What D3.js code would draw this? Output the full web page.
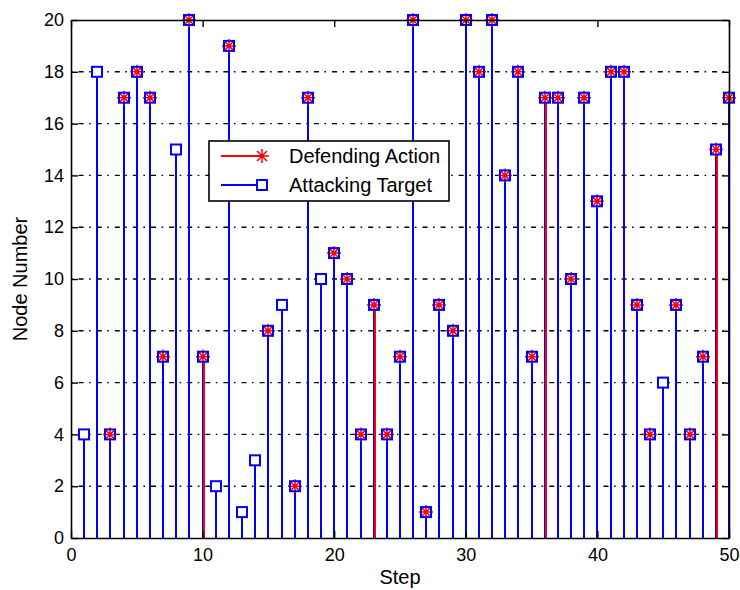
<!DOCTYPE html>
<html>
<head>
<meta charset="utf-8">
<script src="https://cdn.jsdelivr.net/npm/d3@7/dist/d3.min.js"></script>
<style>
  html, body { margin: 0; padding: 0; background: #fff; }
  svg { display: block; }
  text { font-family: "Liberation Sans", Arial, sans-serif; fill: #000; }
</style>
</head>
<body>
<svg id="chart" width="740" height="590"></svg>
<script>
// Step index (1..50)
const steps = d3.range(1, 51);
// Node targeted by the attacker at each step
const attackingTarget = [
  4, 18, 4, 17, 18, 17, 7, 15, 20, 7,
  2, 19, 1, 3, 8, 9, 2, 17, 10, 11,
  10, 4, 9, 4, 7, 20, 1, 9, 8, 20,
  18, 20, 14, 18, 7, 17, 17, 10, 17, 13,
  18, 18, 9, 4, 6, 9, 4, 7, 15, 17
];
// Node chosen by the defender at each step (null = no defending action)
const defendingAction = [
  null, null, 4, 17, 18, 17, 7, null, 20, 7,
  null, 19, null, null, 8, null, 2, 17, null, 11,
  10, 4, 9, 4, 7, 20, 1, 9, 8, 20,
  18, 20, 14, 18, 7, 17, 17, 10, 17, 13,
  18, 18, 9, 4, null, 9, 4, 7, 15, 17
];
const xTicks = [0, 10, 20, 30, 40, 50];
const yTicks = [0, 2, 4, 6, 8, 10, 12, 14, 16, 18, 20];
const seriesNames = ["Defending Action", "Attacking Target"];
const xLabel = "Step";
const yLabel = "Node Number";

const RED = "#ff0000", BLUE = "#0000ff";
const svg = d3.select("#chart");
const plot = { left: 71, right: 729, top: 20, bottom: 538 };

const x = d3.scaleLinear().domain([0, 50]).range([plot.left, plot.right]);
const y = d3.scaleLinear().domain([0, 20]).range([plot.bottom, plot.top]);
// stems sit on whole pixels so the blue line fully hides the red one beneath
const sx = s => Math.round(x(s));

const attack = steps.map((s, i) => ({ step: s, value: attackingTarget[i] }));
const defend = steps.map((s, i) => ({ step: s, value: defendingAction[i] }))
  .filter(d => d.value != null);

// dash-dot horizontal grid
const grid = svg.append("g").attr("stroke", "#000").attr("stroke-width", 1.4)
  .attr("stroke-dasharray", "1.6,6,5,5.5");
grid.selectAll("line").data(yTicks.slice(1, -1)).join("line")
  .attr("x1", x(0)).attr("x2", x(50))
  .attr("y1", d => y(d)).attr("y2", d => y(d));

// stems
const stem = (g, data, color, dx) => g.append("g")
  .attr("stroke", color).attr("stroke-width", 2).attr("shape-rendering", "crispEdges")
  .selectAll("line").data(data).join("line")
  .attr("x1", d => sx(d.step) + dx).attr("x2", d => sx(d.step) + dx)
  .attr("y1", y(0)).attr("y2", d => y(d.value));
stem(svg, defend, RED, 0);
stem(svg, attack, BLUE, 0);
// red stems that land on the pixel grid ahead of the blue ones (period of 13 steps)
stem(svg, defend.filter(d => d.step % 13 === 10), RED, 1);

// markers
const SQ = 10;
const starPath = r => {
  const a = r * Math.SQRT1_2;
  return `M${-r},0L${r},0M0,${-r}L0,${r}M${-a},${-a}L${a},${a}M${-a},${a}L${a},${-a}`;
};
svg.append("g").selectAll("rect").data(attack).join("rect")
  .attr("x", d => sx(d.step) - SQ / 2).attr("y", d => y(d.value) - SQ / 2)
  .attr("width", SQ).attr("height", SQ).attr("fill", "#fff");
svg.append("g").selectAll("path").data(defend).join("path")
  .attr("transform", d => `translate(${sx(d.step)},${y(d.value)})`)
  .attr("d", starPath(7)).attr("stroke", RED).attr("stroke-width", 1.5).attr("fill", "none");
svg.append("g").selectAll("rect").data(attack).join("rect")
  .attr("x", d => sx(d.step) - SQ / 2).attr("y", d => y(d.value) - SQ / 2)
  .attr("width", SQ).attr("height", SQ).attr("fill", "none")
  .attr("stroke", BLUE).attr("stroke-width", 2);

// axes: ticks point inward on all four sides
const styleAxis = g => {
  g.select(".domain").attr("stroke", "#000").attr("stroke-width", 1.6);
  g.selectAll(".tick line").attr("stroke", "#000").attr("stroke-width", 1.4);
  g.selectAll("text").attr("font-size", 18).attr("fill", "#000")
    .style("font-family", '"Liberation Sans", Arial, sans-serif');
};
svg.append("g").attr("transform", `translate(0,${plot.bottom})`)
  .call(d3.axisBottom(x).tickValues(xTicks).tickSize(-7).tickSizeOuter(0).tickPadding(10))
  .call(styleAxis);
svg.append("g").attr("transform", `translate(0,${plot.top})`)
  .call(d3.axisTop(x).tickValues(xTicks).tickSize(-7).tickSizeOuter(0).tickFormat(""))
  .call(styleAxis);
svg.append("g").attr("transform", `translate(${plot.left},0)`)
  .call(d3.axisLeft(y).tickValues(yTicks).tickSize(-7).tickSizeOuter(0).tickPadding(7))
  .call(styleAxis);
svg.append("g").attr("transform", `translate(${plot.right},0)`)
  .call(d3.axisRight(y).tickValues(yTicks).tickSize(-7).tickSizeOuter(0).tickFormat(""))
  .call(styleAxis);

// axis titles
svg.append("text").attr("x", (plot.left + plot.right) / 2).attr("y", 584)
  .attr("text-anchor", "middle").attr("font-size", 20).text(xLabel);
svg.append("text").attr("transform", `translate(27,${(plot.top + plot.bottom) / 2}) rotate(-90)`)
  .attr("text-anchor", "middle").attr("font-size", 20).text(yLabel);

// legend
const legend = svg.append("g").attr("transform", "translate(209,141)");
legend.append("rect").attr("width", 240).attr("height", 60)
  .attr("fill", "#fff").attr("stroke", "#000").attr("stroke-width", 1.6);
const rows = [
  { name: seriesNames[0], color: RED, yy: 15 },
  { name: seriesNames[1], color: BLUE, yy: 44 }
];
rows.forEach((r, i) => {
  legend.append("line").attr("x1", 12).attr("x2", 53).attr("y1", r.yy).attr("y2", r.yy)
    .attr("stroke", r.color).attr("stroke-width", 2);
  if (i === 0) {
    legend.append("path").attr("transform", `translate(53,${r.yy})`).attr("d", starPath(7))
      .attr("stroke", RED).attr("stroke-width", 1.5).attr("fill", "none");
  } else {
    legend.append("rect").attr("x", 53 - SQ / 2).attr("y", r.yy - SQ / 2)
      .attr("width", SQ).attr("height", SQ).attr("fill", "#fff")
      .attr("stroke", BLUE).attr("stroke-width", 2);
  }
  legend.append("text").attr("x", 80).attr("y", r.yy + 7).attr("font-size", 20).text(r.name);
});
</script>
</body>
</html>
